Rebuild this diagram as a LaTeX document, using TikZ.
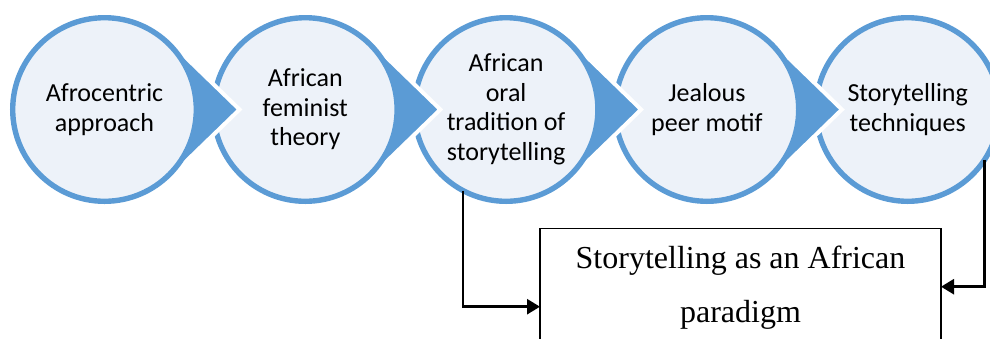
\documentclass[tikz,border=0pt]{standalone}
\usepackage{fontspec}
\setmainfont{Liberation Serif}
\newfontfamily\carlito{Carlito}
\usetikzlibrary{arrows.meta}
\definecolor{ringblue}{RGB}{91,155,213}
\definecolor{discfill}{RGB}{237,242,249}
\tikzset{
  disc/.style={circle, draw=ringblue, line width=5.4pt, fill=discfill,
    minimum size=183.6pt, inner sep=0pt, outer sep=0pt, align=center,
    font=\carlito\fontsize{26pt}{29.5pt}\selectfont, text=black},
  pointer/.style={fill=ringblue, draw=white, line width=4pt, line join=miter},
  resultbox/.style={draw=black, line width=1.1pt, fill=white, align=center,
    minimum width=401pt, minimum height=118.4pt, inner sep=0pt, outer sep=0pt,
    font=\fontsize{32pt}{53.4pt}\selectfont},
  conn/.style={draw=black, line width=2.6pt,
    -{Triangle[length=13pt,width=15pt]}}
}
\newcommand{\pointerfrom}[1]{%
  \path[pointer] ([shift={(65.4pt,67.5pt)}]#1) -- ([shift={(135pt,0pt)}]#1)
    -- ([shift={(65.4pt,-67.5pt)}]#1) -- cycle;}
\begin{document}
\begin{tikzpicture}[x=1pt,y=-1pt]
  \useasboundingbox (0,0) rectangle (990,338);
  % centres of the five stages
  \coordinate (p1) at (104.5,109.5);
  \coordinate (p2) at (305.3,109.5);
  \coordinate (p3) at (506.1,109.5);
  \coordinate (p4) at (706.9,109.5);
  \coordinate (p5) at (907.7,109.5);
  % stages drawn right to left so each pointer lies over the next disc
  \node[disc] (c5) at (p5) {Storytelling\\techniques};
  \pointerfrom{p4}
  \node[disc] (c4) at (p4) {Jealous\\peer motif};
  \pointerfrom{p3}
  \node[disc] (c3) at (p3) {African\\oral\\tradition of\\storytelling};
  \pointerfrom{p2}
  \node[disc] (c2) at (p2) {African\\feminist\\theory};
  \pointerfrom{p1}
  \node[disc] (c1) at (p1) {Afrocentric\\approach};
  % outcome box
  \node[resultbox, anchor=north west] (box) at (540,228.3)
    {Storytelling as an African\\paradigm};
  % connectors into the box
  \draw[conn] (c3.-118) |- ([yshift=-78.4pt]box.north west);
  \draw[conn] (c5.-33) |- ([yshift=-58.4pt]box.north east);
\end{tikzpicture}
\end{document}
